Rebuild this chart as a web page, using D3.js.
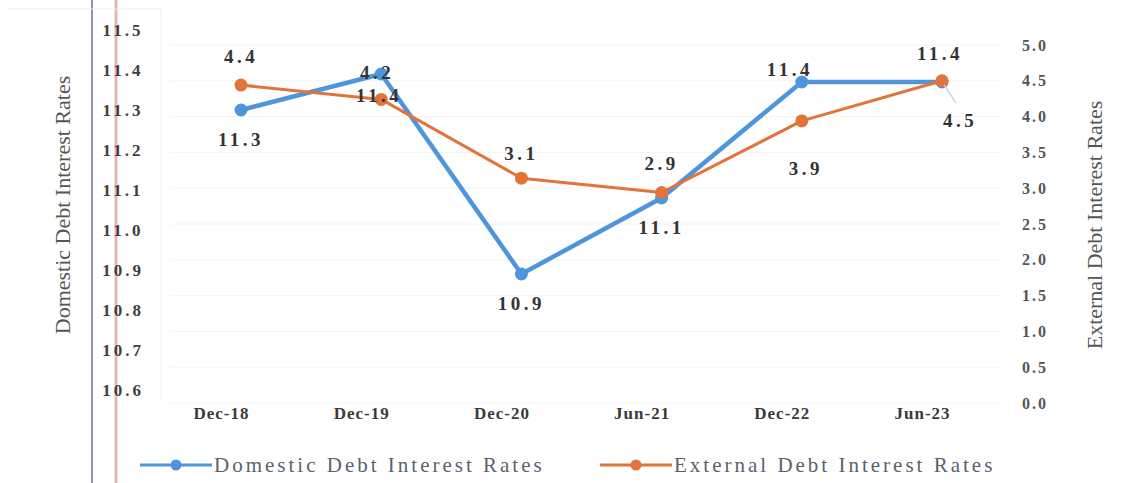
<!DOCTYPE html>
<html>
<head>
<meta charset="utf-8">
<script src="https://cdn.jsdelivr.net/npm/d3@7"></script>
<style>
  body { margin: 0; background: #fff; }
  text { font-family: "Liberation Serif", "DejaVu Serif", serif; }
</style>
</head>
<body>
<div id="chart"></div>
<script>
// chart data
const periods = ["Dec-18", "Dec-19", "Dec-20", "Jun-21", "Dec-22", "Jun-23"];
const domestic = [11.30, 11.39, 10.89, 11.08, 11.37, 11.37];
const external = [4.44, 4.24, 3.14, 2.94, 3.94, 4.50];
const leftTicks = [10.6, 10.7, 10.8, 10.9, 11.0, 11.1, 11.2, 11.3, 11.4, 11.5];
const rightTicks = [0, 0.5, 1, 1.5, 2, 2.5, 3, 3.5, 4, 4.5, 5];

// where each point label sits relative to its point
const domLabelOff = [[0, 36], [-2, 28], [0, 36], [0, 36], [-12, -6], [-2, -22]];
const extLabelOff = [[0, -22], [-4, -20], [0, -18], [0, -22], [4, 54], [18, 46]];

const width = 1146, height = 483;
const blue = "#4f95dc", orange = "#e2733a";

const svg = d3.select("#chart").append("svg")
  .attr("width", width)
  .attr("height", height);

// scan artefacts on the left edge
svg.append("line").attr("x1", 92).attr("x2", 92).attr("y1", 0).attr("y2", height)
  .attr("stroke", "#6f6a9c").attr("stroke-width", 1.5);
svg.append("line").attr("x1", 116).attr("x2", 116).attr("y1", 0).attr("y2", height)
  .attr("stroke", "#e9b4b4").attr("stroke-width", 3);
svg.append("line").attr("x1", 161).attr("x2", 161).attr("y1", 8).attr("y2", 400)
  .attr("stroke", "#eee").attr("stroke-width", 1);
svg.append("line").attr("x1", 8).attr("x2", 161).attr("y1", 9).attr("y2", 9)
  .attr("stroke", "#eee").attr("stroke-width", 1);

const x = d3.scalePoint()
  .domain(periods)
  .range([241, 942]);

const yLeft = d3.scaleLinear()
  .domain([10.6, 11.5])
  .range([390, 30]);

const yRight = d3.scaleLinear()
  .domain([0, 5])
  .range([403, 45]);

// faint gridlines
svg.append("g")
  .selectAll("line")
  .data(rightTicks)
  .join("line")
  .attr("x1", 170).attr("x2", 1000)
  .attr("y1", d => yRight(d)).attr("y2", d => yRight(d))
  .attr("stroke", "#f4f4f4");

// left axis
const leftAxis = svg.append("g")
  .attr("transform", "translate(145,0)")
  .call(d3.axisLeft(yLeft).tickValues(leftTicks).tickFormat(d3.format(".1f")).tickSize(0));
leftAxis.select(".domain").remove();
leftAxis.selectAll("text")
  .attr("fill", "#3e3e3e")
  .style("font-size", "17px")
  .style("font-weight", "bold")
  .style("letter-spacing", "3px")
  .attr("x", -22)
  .attr("text-anchor", "middle");

// right axis
const rightAxis = svg.append("g")
  .attr("transform", "translate(1010,0)")
  .call(d3.axisRight(yRight).tickValues(rightTicks).tickFormat(d3.format(".1f")).tickSize(0));
rightAxis.select(".domain").remove();
rightAxis.selectAll("text")
  .attr("fill", "#555")
  .style("font-size", "16px")
  .style("font-weight", "bold")
  .style("letter-spacing", "2px")
  .attr("x", 25)
  .attr("text-anchor", "middle");

// x axis labels
const xAxis = svg.append("g")
  .attr("transform", "translate(-20,413)")
  .call(d3.axisBottom(x).tickSize(0));
xAxis.select(".domain").remove();
xAxis.selectAll("text")
  .attr("fill", "#3a3a3a")
  .attr("y", 0)
  .attr("dy", "0.35em")
  .style("font-size", "17px")
  .style("font-weight", "bold")
  .style("letter-spacing", "1px");

// axis titles
svg.append("text")
  .attr("transform", "translate(70,205) rotate(-90)")
  .attr("text-anchor", "middle")
  .attr("fill", "#555")
  .style("font-size", "22px")
  .text("Domestic Debt Interest Rates");

svg.append("text")
  .attr("transform", "translate(1102,225) rotate(-90)")
  .attr("text-anchor", "middle")
  .attr("fill", "#555")
  .style("font-size", "22px")
  .text("External Debt Interest Rates");

// series lines
const domLine = d3.line().x((d, i) => x(periods[i])).y(d => yLeft(d));
const extLine = d3.line().x((d, i) => x(periods[i])).y(d => yRight(d));

svg.append("path")
  .datum(domestic)
  .attr("d", domLine)
  .attr("fill", "none")
  .attr("stroke", blue)
  .attr("stroke-width", 4.5)
  .attr("stroke-linejoin", "round");

svg.append("path")
  .datum(external)
  .attr("d", extLine)
  .attr("fill", "none")
  .attr("stroke", orange)
  .attr("stroke-width", 3)
  .attr("stroke-linejoin", "round");

svg.append("g")
  .selectAll("circle")
  .data(domestic)
  .join("circle")
  .attr("cx", (d, i) => x(periods[i]))
  .attr("cy", d => yLeft(d))
  .attr("r", 6.5)
  .attr("fill", blue);

svg.append("g")
  .selectAll("circle")
  .data(external)
  .join("circle")
  .attr("cx", (d, i) => x(periods[i]))
  .attr("cy", d => yRight(d))
  .attr("r", 6.5)
  .attr("fill", orange);

// leader line for last external label
svg.append("line")
  .attr("x1", x(periods[5]) + 2).attr("y1", yRight(external[5]) + 4)
  .attr("x2", x(periods[5]) + 14).attr("y2", yRight(external[5]) + 22)
  .attr("stroke", "#c9d3de").attr("stroke-width", 1.5);

// data labels
svg.append("g")
  .selectAll("text")
  .data(domestic)
  .join("text")
  .attr("x", (d, i) => x(periods[i]) + domLabelOff[i][0])
  .attr("y", (d, i) => yLeft(d) + domLabelOff[i][1])
  .attr("text-anchor", "middle")
  .attr("fill", "#333")
  .style("font-size", "19px")
  .style("font-weight", "bold")
  .style("letter-spacing", "3.5px")
  .text(d => d.toFixed(1));

svg.append("g")
  .selectAll("text")
  .data(external)
  .join("text")
  .attr("x", (d, i) => x(periods[i]) + extLabelOff[i][0])
  .attr("y", (d, i) => yRight(d) + extLabelOff[i][1])
  .attr("text-anchor", "middle")
  .attr("fill", "#333")
  .style("font-size", "19px")
  .style("font-weight", "bold")
  .style("letter-spacing", "3.5px")
  .text(d => d.toFixed(1));

// legend
const legend = svg.append("g").attr("transform", "translate(0,465)");
const items = [
  { name: "Domestic Debt Interest Rates", color: blue, x: 140 },
  { name: "External Debt Interest Rates", color: orange, x: 600 }
];
items.forEach(it => {
  legend.append("line")
    .attr("x1", it.x).attr("x2", it.x + 72)
    .attr("stroke", it.color).attr("stroke-width", 3);
  legend.append("circle")
    .attr("cx", it.x + 36).attr("r", 5.5).attr("fill", it.color);
  legend.append("text")
    .attr("x", it.x + 74)
    .attr("dy", "0.35em")
    .attr("fill", "#5a6270")
    .style("font-size", "21px")
    .style("letter-spacing", "3px")
    .text(it.name);
});
</script>
</body>
</html>
